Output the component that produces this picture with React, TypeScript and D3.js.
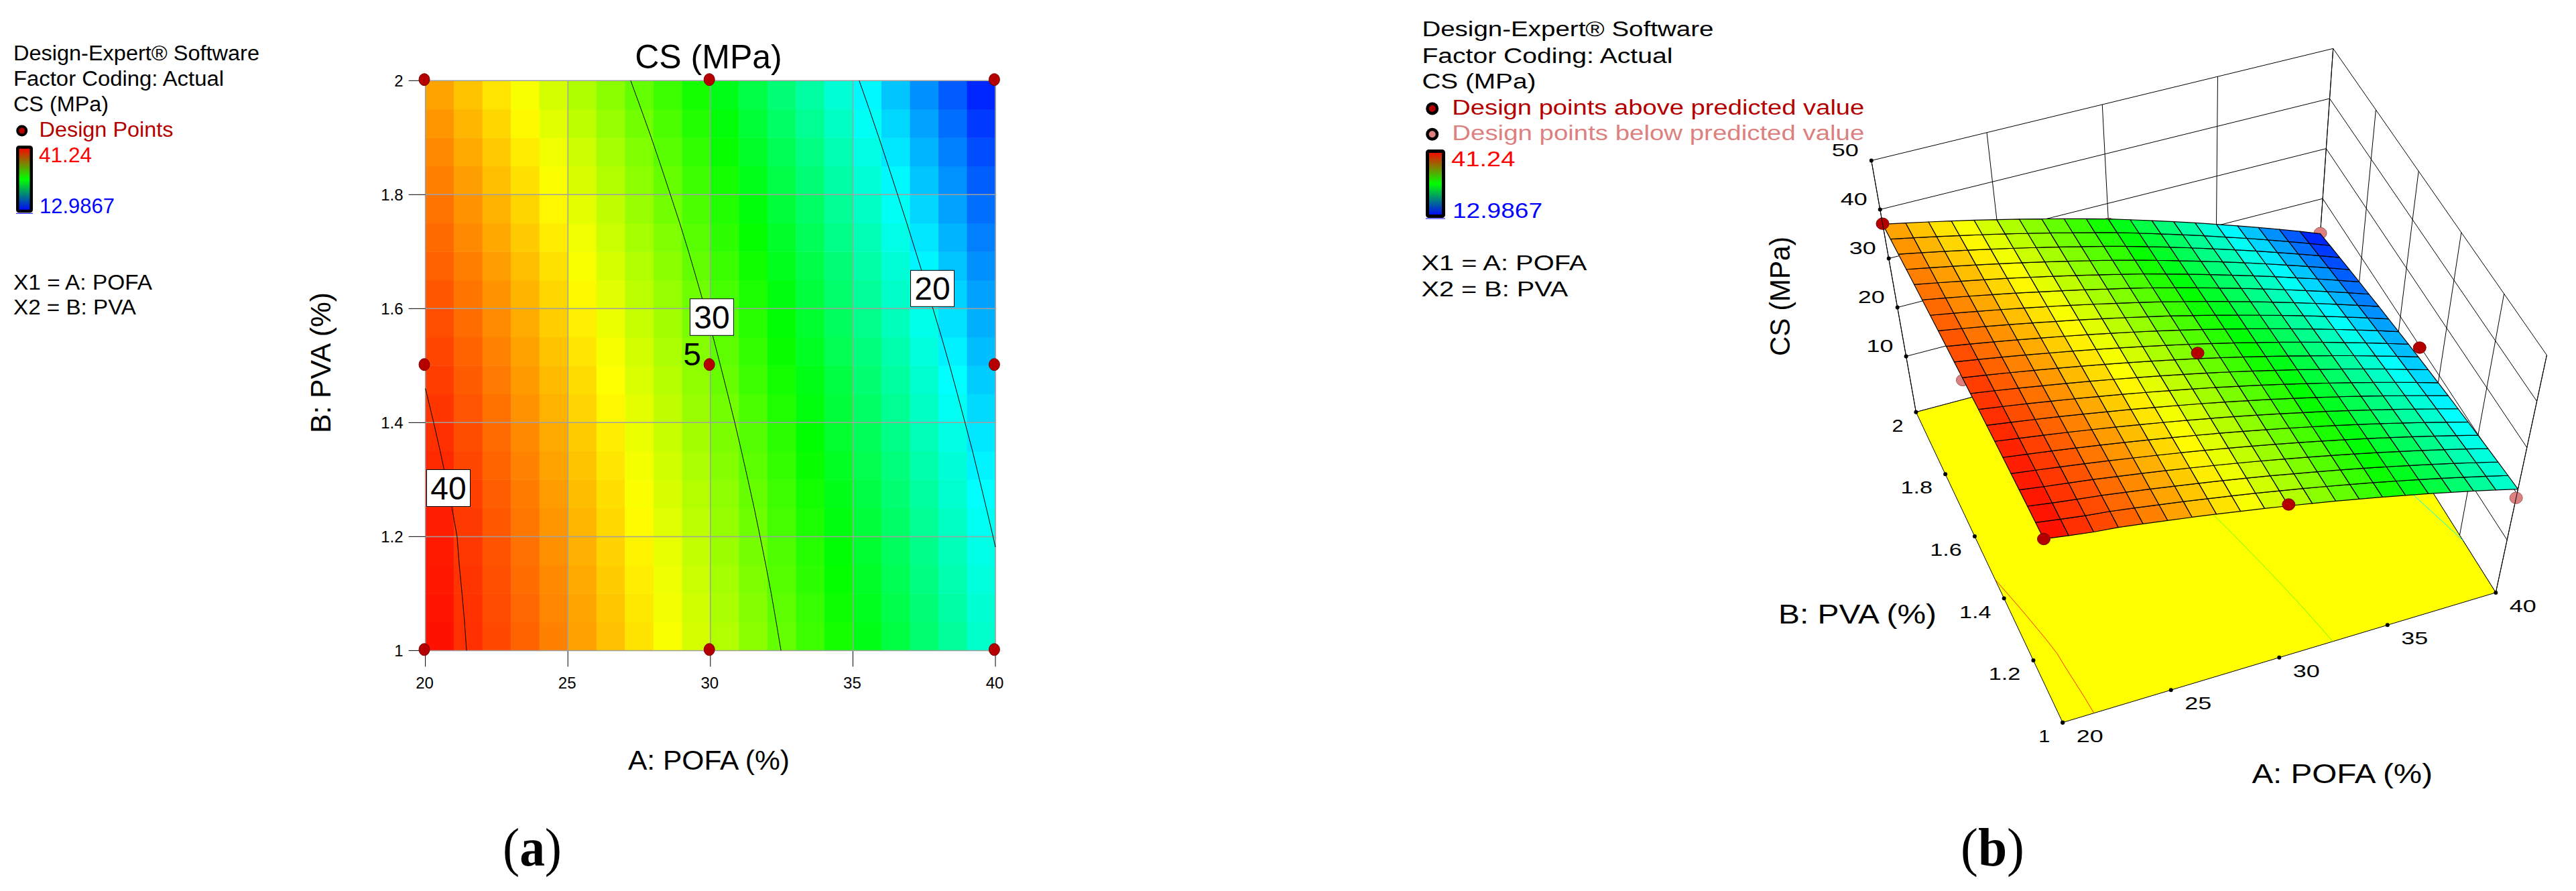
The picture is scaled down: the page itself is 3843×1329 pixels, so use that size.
import React from "react";
import * as d3 from "d3";

const pofaTicks = [20, 25, 30, 35, 40];
const pvaTicks = [1, 1.2, 1.4, 1.6, 1.8, 2];
const csTicks = [10, 20, 30, 40, 50];
const contourLevels = [20, 30, 40];
const csMin = 12.9867;
const csMax = 41.24;
const floorCs = -1.4;
const topCs = 50;

// CS (MPa) read at every mesh node: rows PVA 1 to 2 by 0.05, columns POFA 20 to 40 by 1
const csGrid = [
  [41.24,40.36,39.55,38.96,38.14,37.29,36.41,35.50,34.56,33.60,32.60,31.57,30.52,29.43,28.32,27.17,26.00,24.79,23.56,22.30,21.00],
  [41.16,40.30,39.50,38.86,38.03,37.17,36.29,35.37,34.42,33.45,32.44,31.40,30.34,29.24,28.12,26.96,25.78,24.57,23.32,22.05,20.75],
  [41.07,40.22,39.45,38.74,37.91,37.04,36.14,35.22,34.27,33.29,32.27,31.22,30.15,29.04,27.91,26.74,25.55,24.32,23.07,21.79,20.48],
  [40.97,40.14,39.40,38.62,37.77,36.90,35.99,35.05,34.09,33.10,32.08,31.02,29.94,28.82,27.68,26.51,25.31,24.07,22.81,21.52,20.19],
  [40.85,40.09,39.29,38.47,37.62,36.73,35.82,34.88,33.91,32.91,31.88,30.81,29.72,28.59,27.44,26.25,25.05,23.80,22.53,21.23,19.89],
  [40.72,39.95,39.15,38.32,37.46,36.57,35.64,34.69,33.71,32.71,31.67,30.59,29.49,28.35,27.19,25.99,24.77,23.51,22.23,20.92,19.57],
  [40.57,39.79,38.98,38.14,37.27,36.37,35.45,34.49,33.50,32.49,31.44,30.35,29.24,28.09,26.92,25.71,24.48,23.21,21.92,20.60,19.24],
  [40.41,39.62,38.81,37.96,37.08,36.17,35.24,34.27,33.27,32.26,31.20,30.10,28.98,27.82,26.64,25.42,24.18,22.90,21.60,20.27,18.90],
  [40.23,39.44,38.61,37.76,36.87,35.96,35.02,34.04,33.04,32.01,30.95,29.84,28.71,27.53,26.34,25.11,23.86,22.57,21.25,19.91,18.53],
  [40.04,39.24,38.41,37.54,36.65,35.73,34.78,33.80,32.78,31.75,30.68,29.56,28.42,27.23,26.03,24.79,23.53,22.23,20.90,19.55,18.16],
  [39.84,39.03,38.19,37.32,36.42,35.49,34.53,33.54,32.52,31.48,30.40,29.27,28.11,26.92,25.71,24.45,23.18,21.87,20.54,19.17,17.77],
  [39.62,38.80,37.96,37.08,36.17,35.24,34.27,33.27,32.24,31.20,30.11,28.96,27.80,26.59,25.37,24.10,22.82,21.49,20.15,18.77,17.36],
  [39.38,38.56,37.70,36.82,35.90,34.96,33.99,32.98,31.95,30.89,29.80,28.64,27.47,26.25,25.01,23.73,22.44,21.10,19.74,18.36,16.93],
  [39.14,38.31,37.45,36.55,35.63,34.68,33.70,32.69,31.64,30.58,29.48,28.31,27.12,25.90,24.65,23.36,22.05,20.70,19.34,17.94,16.50],
  [38.87,38.03,37.16,36.27,35.34,34.38,33.39,32.37,31.33,30.26,29.15,27.97,26.77,25.53,24.27,22.96,21.64,20.28,18.90,17.49,16.04],
  [38.60,37.75,36.88,35.97,35.04,34.07,33.07,32.05,30.99,29.92,28.80,27.61,26.39,25.14,23.87,22.55,21.22,19.85,18.46,17.03,15.57],
  [38.31,37.46,36.57,35.66,34.72,33.75,32.74,31.71,30.65,29.56,28.44,27.23,26.01,24.74,23.46,22.13,20.79,19.40,18.00,16.56,15.09],
  [38.00,37.14,36.25,35.33,34.38,33.41,32.40,31.36,30.29,29.20,28.07,26.85,25.61,24.34,23.04,21.70,20.34,18.94,17.53,16.08,14.59],
  [37.68,36.82,35.92,35.00,34.04,33.06,32.04,31.00,29.92,28.83,27.69,26.46,25.21,23.92,22.61,21.25,19.88,18.47,17.04,15.58,14.08],
  [37.35,36.48,35.58,34.64,33.68,32.69,31.67,30.62,29.53,28.43,27.29,26.05,24.78,23.48,22.15,20.79,19.41,17.98,16.54,15.06,13.55],
  [37.00,36.12,35.21,34.28,33.31,32.31,31.28,30.22,29.14,28.03,26.88,25.62,24.34,23.03,21.69,20.31,18.91,17.47,16.02,14.53,13.00],
];

// Design points: POFA, PVA, CS read from the 3D view, above/below the surface
const pointPofa = [20, 30, 40, 20, 30, 40, 20, 30, 40];
const pointPva = [1, 1, 1, 1.5, 1.5, 1.5, 2, 2, 2];
const pointCs = [41.24, 32.9, 19.1, 39.3, 31.6, 19.7, 37.1, 25.9, 13.1];
const pointAbove = [true, true, false, false, true, true, true, false, false];

const DARK_RED = "#b40000";
const PINK = "#dc8080";
const FONT = "'Liberation Sans', Arial, sans-serif";

const color = d3
  .scaleLinear<string>()
  .domain([0, 0.25, 0.5, 0.75, 1].map((t) => csMin + t * (csMax - csMin)))
  .range(["#0000ff", "#00ffff", "#00ff00", "#ffff00", "#ff0000"])
  .clamp(true);

// left contour map
const mapX = d3.scaleLinear().domain([20, 40]).range([634.6, 1485]);
const mapY = d3.scaleLinear().domain([1, 2]).range([970.4, 120.3]);

// 3D box
const u = d3.scaleLinear().domain([20, 40]).range([0, 1]);
const w = d3.scaleLinear().domain([1, 2]).range([0, 1]);
const h = d3.scaleLinear().domain([floorCs, topCs]).range([0, 1]);
const fA = [3077.2, 1077.7], fB = [3723.3, 883.9], fC = [2858.4, 614.7], fD = [3454, 456];
const tA = [3043.2, 747.7], tB = [3799.4, 529.7], tC = [2791.8, 239.5], tD = [3480.7, 72.4];
const bil = (p: number[], q: number[], r: number[], s: number[], a: number, b: number, k: number) =>
  (1 - a) * (1 - b) * p[k] + a * (1 - b) * q[k] + (1 - a) * b * r[k] + a * b * s[k];
function project(pofa: number, pva: number, cs: number): [number, number] {
  const a = u(pofa), b = w(pva), t = h(cs);
  const out = [0, 1].map((k) => {
    const lo = bil(fA, fB, fC, fD, a, b, k);
    const hi = bil(tA, tB, tC, tD, a, b, k);
    return lo + (hi - lo) * t;
  });
  return [out[0], out[1]];
}
const line = d3.line<[number, number]>();
const closed = (pts: [number, number][]) => (line(pts) as string) + "Z";
const seg = (a: [number, number], b: [number, number]) => line([a, b]) as string;

const nodePva = csGrid.map((_, j) => 1 + j * 0.05);
const nodePofa = csGrid[0].map((_, i) => 20 + i);

function contourLine(level: number): [number, number][] {
  const pts: [number, number][] = [];
  const crossing = (j: number) => {
    const r = csGrid[j];
    for (let i = 0; i < r.length - 1; i++) {
      if (r[i] >= level && r[i + 1] <= level) return nodePofa[i] + (r[i] - level) / (r[i] - r[i + 1]);
    }
    return null;
  };
  const edge = (j0: number, j1: number): [number, number] | null => {
    for (const c of [0, 20]) {
      const p = csGrid[j0][c], q = csGrid[j1][c];
      if ((p - level) * (q - level) <= 0) return [nodePofa[c], nodePva[j0] + ((p - level) / (p - q)) * (nodePva[j1] - nodePva[j0])];
    }
    return null;
  };
  csGrid.forEach((_, j) => {
    const c = crossing(j);
    const prev = j > 0 ? crossing(j - 1) : null;
    if (c !== null && j > 0 && prev === null) {
      const e = edge(j - 1, j);
      if (e) pts.push(e);
    }
    if (c === null && prev !== null) {
      const e = edge(j - 1, j);
      if (e) pts.push(e);
    }
    if (c !== null) pts.push([c, nodePva[j]]);
  });
  return pts;
}

function T(props: any) {
  const { x, y, size, len, fill = "#000", anchor, rotate, children, family = FONT } = props;
  return (
    <text
      x={x}
      y={y}
      fontSize={size}
      fontFamily={family}
      fill={fill}
      textAnchor={anchor}
      textLength={len}
      lengthAdjust={len ? "spacingAndGlyphs" : undefined}
      transform={rotate ? `rotate(${rotate} ${x} ${y})` : undefined}
    >
      {children}
    </text>
  );
}

function ColorBar({ x0, x1, y0, y1, sw }: any) {
  return (
    <g>
      <line x1={x0} x2={x1} y1={y1 + 1} y2={y1 + 1} stroke="#0000ff" strokeWidth={1} />
      <rect x={x0 + sw / 2} y={y0 + sw / 2} width={x1 - x0 - sw} height={y1 - y0 - sw} rx={2} fill="url(#bar)" stroke="#000" strokeWidth={sw} />
    </g>
  );
}

function Marker({ x, y, fill, r, ri }: any) {
  return (
    <g>
      <circle cx={x} cy={y} r={r} fill="#000" />
      <circle cx={x} cy={y} r={ri} fill={fill} />
    </g>
  );
}

function LabelBox({ x, y, width, height, text }: any) {
  return (
    <g>
      <rect x={x} y={y} width={width} height={height} fill="#fff" stroke="#000" strokeWidth={1} />
      <T x={x + width / 2} y={y + height / 2 + 17} size={48} anchor="middle">{text}</T>
    </g>
  );
}

function ContourMap() {
  const cellW = mapX(21) - mapX(20);
  const cellH = mapY(1) - mapY(1.05);
  return (
    <g>
      {csGrid.slice(0, -1).map((r, j) =>
        r.slice(0, -1).map((v, i) => (
          <rect
            key={`${i}-${j}`}
            x={mapX(nodePofa[i])}
            y={mapY(nodePva[j + 1])}
            width={cellW + 0.5}
            height={cellH + 0.5}
            fill={color((v + r[i + 1] + csGrid[j + 1][i] + csGrid[j + 1][i + 1]) / 4)}
          />
        ))
      )}
      {pofaTicks.map((t) => (
        <g key={t}>
          <line x1={mapX(t)} x2={mapX(t)} y1={mapY(1)} y2={mapY(2)} stroke="#a0a0a0" strokeWidth={1.5} />
          <line x1={mapX(t)} x2={mapX(t)} y1={mapY(1)} y2={mapY(1) + 24} stroke="#000" strokeWidth={1} />
          <T x={mapX(t) - 1} y={1027} size={24} anchor="middle">{t}</T>
        </g>
      ))}
      {pvaTicks.map((t) => (
        <g key={t}>
          <line x1={mapX(20)} x2={mapX(40)} y1={mapY(t)} y2={mapY(t)} stroke="#a0a0a0" strokeWidth={1.5} />
          <line x1={mapX(20) - 25} x2={mapX(20)} y1={mapY(t)} y2={mapY(t)} stroke="#000" strokeWidth={1} />
          <T x={mapX(20) - 33} y={mapY(t) + 9} size={24} anchor="end">{t}</T>
        </g>
      ))}
      {contourLevels.map((l) => (
        <path
          key={l}
          d={line(contourLine(l).map(([a, b]) => [mapX(a), mapY(b)] as [number, number])) as string}
          fill="none"
          stroke="#000"
          strokeWidth={1}
        />
      ))}
      <T x={1046} y={545} size={48} anchor="end">5</T>
      <LabelBox x={1029.4} y={445.7} width={65} height={54.6} text="30" />
      <LabelBox x={1358.5} y={403.3} width={65} height={54} text="20" />
      <LabelBox x={636.5} y={700.5} width={65} height={55} text="40" />
      {pointPofa.map((a, k) => (
        <ellipse key={k} cx={mapX(a) - 1.6} cy={mapY(pointPva[k]) - 1.6} rx={8} ry={9} fill={DARK_RED} stroke="#7a0000" strokeWidth={1} />
      ))}
      <T x={1057} y={102} size={50} anchor="middle">CS (MPa)</T>
      <T x={937} y={1148} size={40} len={241}>A: POFA (%)</T>
      <T x={492.7} y={646} size={42} len={210} rotate={-90}>B: PVA (%)</T>
    </g>
  );
}

function Surface3D() {
  const wallCol = "#000";
  const pt = (k: number) => project(pointPofa[k], pointPva[k], pointCs[k]);
  const marker = (k: number, fill: string) => {
    const [x, y] = pt(k);
    return <ellipse key={k} cx={x} cy={y} rx={9.5} ry={8.7} fill={fill} stroke={fill === PINK ? "#a06060" : "#7a0000"} strokeWidth={1} />;
  };
  return (
    <g>
      {/* back walls */}
      <g fill="none" stroke={wallCol} strokeWidth={1}>
        {[...csTicks, floorCs].map((z) => (
          <g key={z}>
            <path d={seg(project(20, 2, z), project(40, 2, z))} />
            <path d={seg(project(40, 2, z), project(40, 1, z))} />
          </g>
        ))}
        {pofaTicks.map((a) => (
          <path key={a} d={seg(project(a, 2, floorCs), project(a, 2, topCs))} />
        ))}
        {pvaTicks.map((b) => (
          <path key={b} d={seg(project(40, b, floorCs), project(40, b, topCs))} />
        ))}
      </g>
      {/* floor */}
      <path
        d={closed([project(20, 1, floorCs), project(40, 1, floorCs), project(40, 2, floorCs), project(20, 2, floorCs)])}
        fill="#ffff00"
        stroke="#000"
        strokeWidth={1}
      />
      {contourLevels.map((l) => (
        <path
          key={l}
          d={line(contourLine(l).map(([a, b]) => project(a, b, floorCs))) as string}
          fill="none"
          stroke={color(l)}
          strokeWidth={1}
        />
      ))}
      {pointAbove.map((above, k) => (above ? null : marker(k, PINK)))}
      {/* surface */}
      <g stroke="#000" strokeWidth={1.2} strokeLinejoin="round">
        {csGrid.slice(0, -1).map((r, j) =>
          r.slice(0, -1).map((v, i) => {
            const n = csGrid[j + 1];
            return (
              <path
                key={`${i}-${j}`}
                d={closed([
                  project(nodePofa[i], nodePva[j], v),
                  project(nodePofa[i + 1], nodePva[j], r[i + 1]),
                  project(nodePofa[i + 1], nodePva[j + 1], n[i + 1]),
                  project(nodePofa[i], nodePva[j + 1], n[i]),
                ])}
                fill={color((v + r[i + 1] + n[i] + n[i + 1]) / 4)}
              />
            );
          })
        )}
      </g>
      {pointAbove.map((above, k) => (above ? marker(k, DARK_RED) : null))}
      {/* axes */}
      {csTicks.map((z) => {
        const [x, y] = project(20, 2, z);
        return (
          <g key={z}>
            <circle cx={x} cy={y} r={3} fill="#000" />
            <T x={x - 19 - 40} y={y - 6.5} size={26} len={40}>{z}</T>
          </g>
        );
      })}
      {pofaTicks.map((a) => {
        const [x, y] = project(a, 1, floorCs);
        return (
          <g key={a}>
            <circle cx={x} cy={y} r={3} fill="#000" />
            <T x={x + 20.5} y={y + 29} size={26} len={40}>{a}</T>
          </g>
        );
      })}
      {pvaTicks.map((b) => {
        const [x, y] = project(20, b, floorCs);
        const wide = String(b).length > 1;
        return (
          <g key={b}>
            <circle cx={x} cy={y} r={3} fill="#000" />
            <T x={x - 19 - (wide ? 47.6 : 17)} y={y + 29} size={26} len={wide ? 47.6 : 17}>{b}</T>
          </g>
        );
      })}
      <path d={seg(project(20, 2, floorCs), project(20, 2, topCs))} stroke="#000" strokeWidth={1} fill="none" />
      <path d={seg(project(40, 1, floorCs), project(40, 1, topCs))} stroke="#000" strokeWidth={1} fill="none" />
      <T x={2653} y={929.5} size={41} len={236}>B: PVA (%)</T>
      <T x={3359.4} y={1168} size={41} len={269.6}>A: POFA (%)</T>
      <T x={2670} y={531} size={42} len={178} rotate={-90}>CS (MPa)</T>
    </g>
  );
}

function LeftLegend() {
  return (
    <g>
      <T x={20} y={90} size={31} len={367}>Design-Expert® Software</T>
      <T x={20} y={128} size={31} len={314}>Factor Coding: Actual</T>
      <T x={20} y={166} size={31} len={142}>CS (MPa)</T>
      <Marker x={32.7} y={195} fill={DARK_RED} r={8.5} ri={4.5} />
      <T x={58.5} y={204} size={31} len={200} fill={DARK_RED}>Design Points</T>
      <ColorBar x0={24} x1={49} y0={217.3} y1={317.3} sw={4.5} />
      <T x={58} y={242} size={31} len={79} fill="#ff0000">41.24</T>
      <T x={59} y={318} size={31} len={112} fill="#0000ff">12.9867</T>
      <T x={20} y={431.7} size={31} len={207}>X1 = A: POFA</T>
      <T x={20} y={469.3} size={31} len={183}>X2 = B: PVA</T>
    </g>
  );
}

function RightLegend() {
  return (
    <g>
      <T x={2121.4} y={54} size={31} len={435}>Design-Expert® Software</T>
      <T x={2121.4} y={94} size={31} len={374}>Factor Coding: Actual</T>
      <T x={2121.4} y={132} size={31} len={170}>CS (MPa)</T>
      <Marker x={2136.7} y={162} fill={DARK_RED} r={9.5} ri={5} />
      <T x={2166.3} y={171} size={31} len={615} fill={DARK_RED}>Design points above predicted value</T>
      <Marker x={2136.7} y={200.3} fill={PINK} r={9.5} ri={5} />
      <T x={2166.3} y={209} size={31} len={615} fill={PINK}>Design points below predicted value</T>
      <ColorBar x0={2127} x1={2156} y0={223} y1={325} sw={5} />
      <T x={2165.3} y={248} size={31} len={95} fill="#ff0000">41.24</T>
      <T x={2167} y={325} size={31} len={134} fill="#0000ff">12.9867</T>
      <T x={2120.4} y={403} size={31} len={247}>X1 = A: POFA</T>
      <T x={2120.4} y={442} size={31} len={219}>X2 = B: PVA</T>
    </g>
  );
}

function PanelLabel({ x, len, letter }: any) {
  return (
    <text x={x} y={1291} fontSize={80} fontFamily="'Liberation Serif', 'Times New Roman', serif" textLength={len} lengthAdjust="spacingAndGlyphs">
      (<tspan fontWeight="bold">{letter}</tspan>)
    </text>
  );
}

export default function App() {
  return (
    <svg width={3843} height={1329} style={{ position: "absolute", left: 0, top: 0, display: "block", background: "#fff" }}>
      <defs>
        <linearGradient id="bar" x1="0" y1="0" x2="0" y2="1">
          <stop offset="0" stopColor="#ff0000" />
          <stop offset="0.5" stopColor="#00ff00" />
          <stop offset="1" stopColor="#0000ff" />
        </linearGradient>
      </defs>
      <LeftLegend />
      <ContourMap />
      <Surface3D />
      <RightLegend />
      <PanelLabel x={750} len={88} letter="a" />
      <PanelLabel x={2925} len={95} letter="b" />
    </svg>
  );
}
